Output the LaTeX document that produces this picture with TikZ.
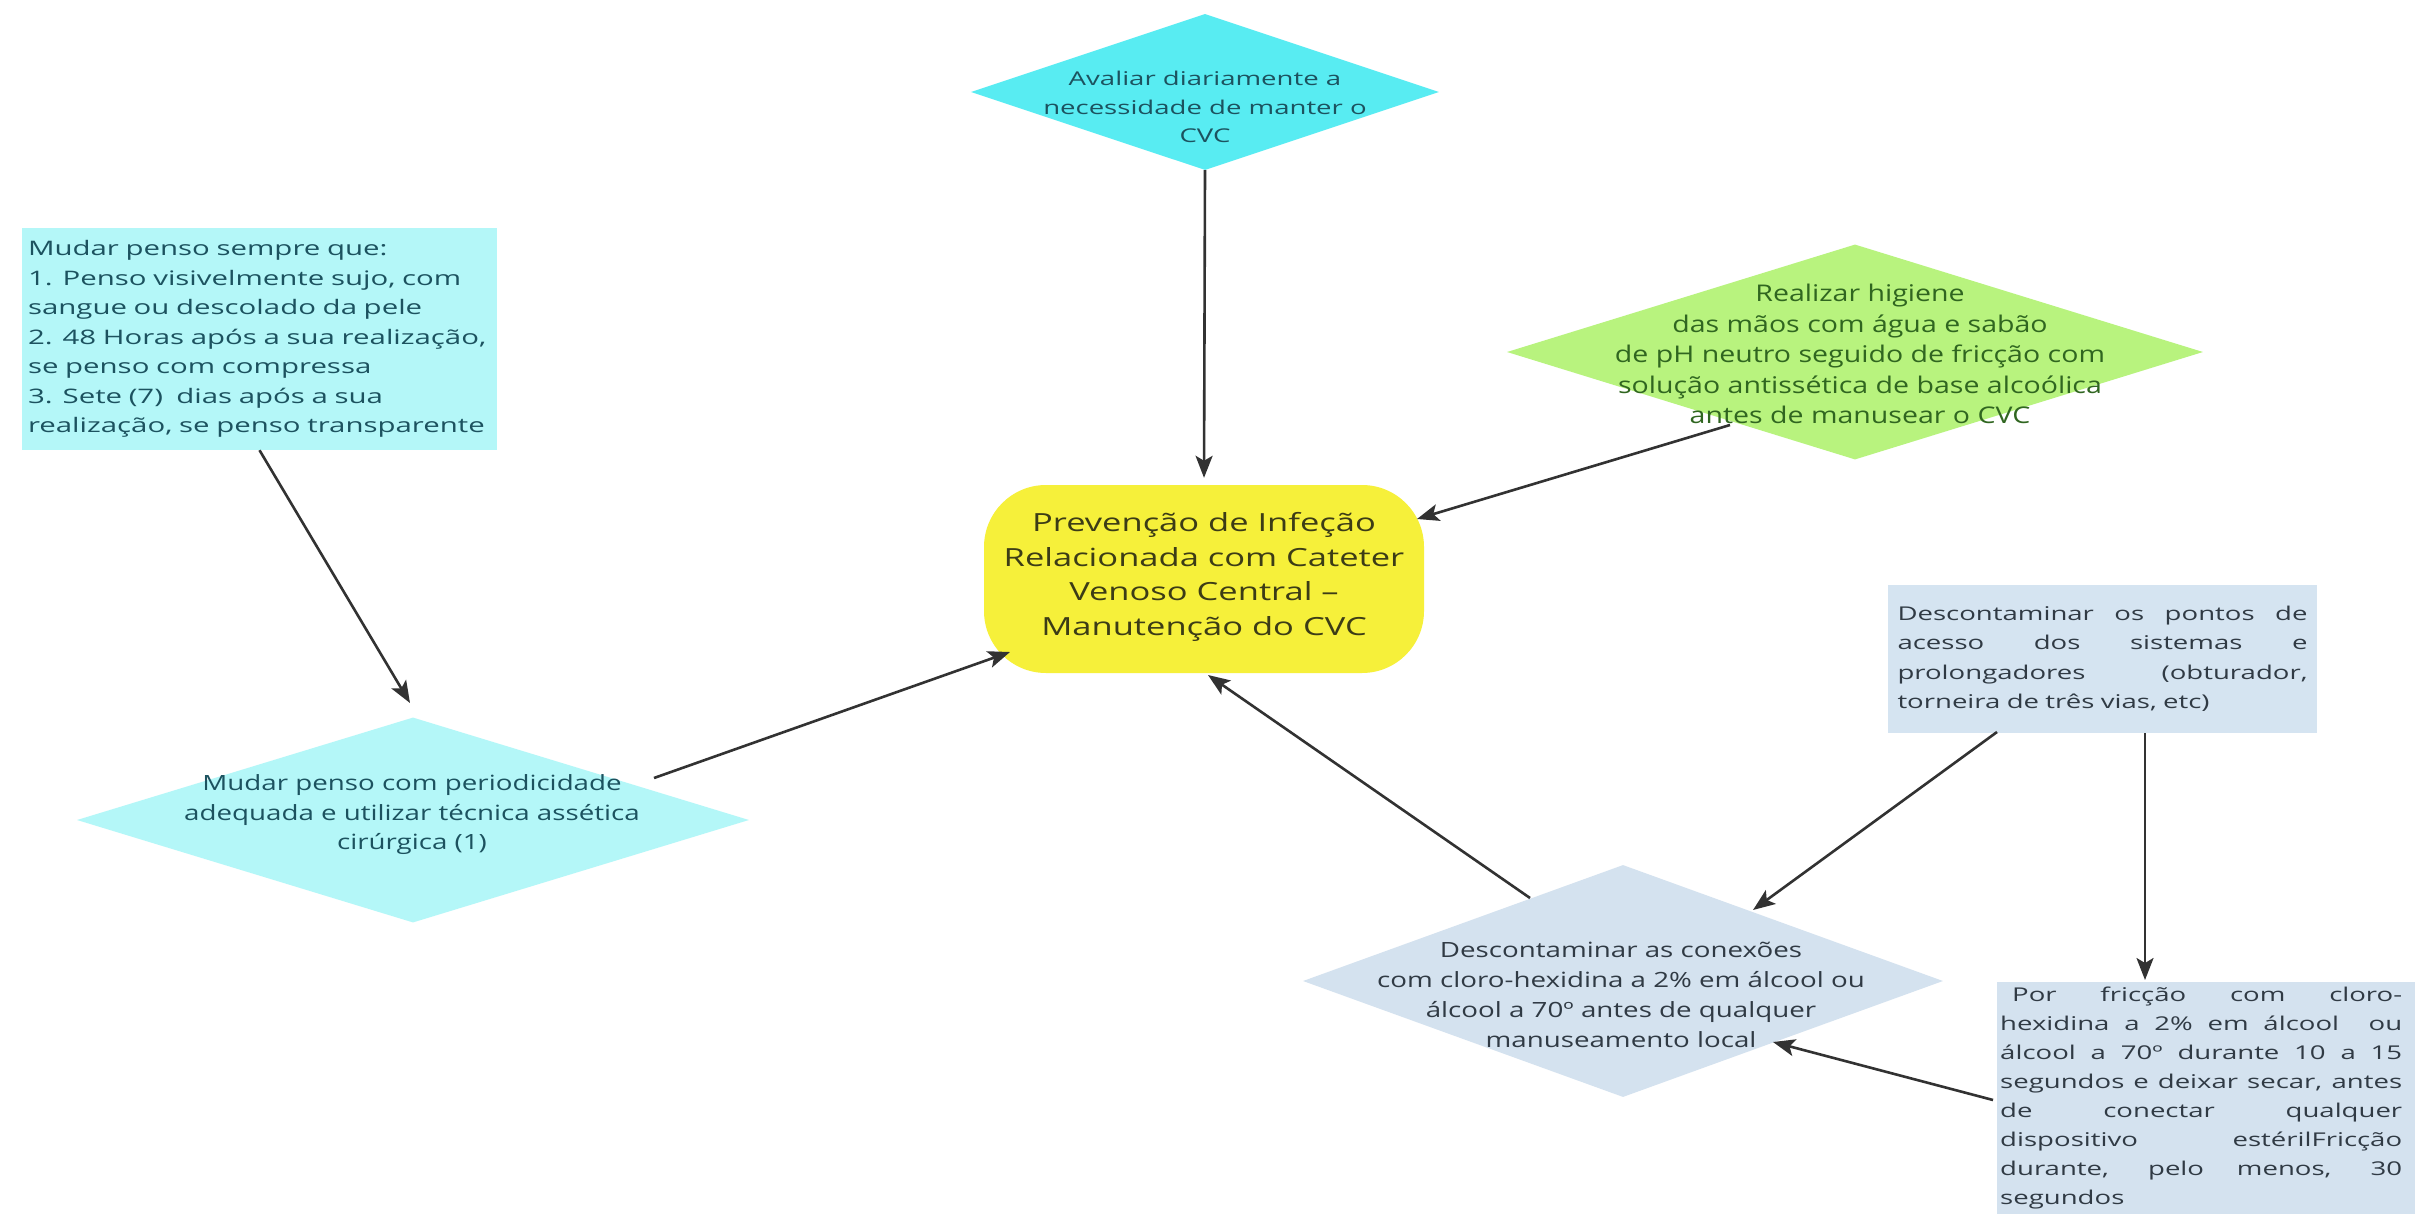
\documentclass[tikz,border=0pt]{standalone}
\usepackage{fontspec}
\setmainfont{Open Sans}
\newfontfamily\fwide[FakeStretch=1.45]{Open Sans}
\newfontfamily\fwider[FakeStretch=1.47]{Open Sans}
\newfontfamily\fmid[FakeStretch=1.38]{Open Sans}
\newfontfamily\fnar[FakeStretch=1.32]{Open Sans}
\newfontfamily\fgreen[FakeStretch=1.24]{Open Sans}
\usetikzlibrary{shapes.geometric,arrows.meta}
\definecolor{cyanA}{RGB}{88,236,242}
\definecolor{cyanL}{RGB}{180,247,248}
\definecolor{greenD}{RGB}{184,243,126}
\definecolor{yellowC}{RGB}{246,240,58}
\definecolor{blueL}{RGB}{213,228,241}
\definecolor{blueD}{RGB}{212,226,239}
\definecolor{tealT}{RGB}{28,82,95}
\definecolor{greenT}{RGB}{48,102,32}
\definecolor{oliveT}{RGB}{60,60,22}
\definecolor{slateT}{RGB}{48,58,68}
\definecolor{arrC}{RGB}{50,50,50}
\newcommand\jl[2][\hsize]{{\spaceskip=0pt\xspaceskip=0pt\makebox[#1][s]{#2}}}
\begin{document}
\begin{tikzpicture}[x=1pt,y=-1pt,
  every node/.append style={execute at begin node={\hyphenpenalty=10000\exhyphenpenalty=10000}},
  dia/.style={diamond, draw=none, inner sep=0pt},
  boxn/.style={rectangle, draw=none, inner ysep=4pt},
  txt/.style={inner sep=0pt, align=center},
  arr/.style={draw=arrC, line width=2.6pt, -{Stealth[length=22pt,width=17pt,inset=5pt]}}]
\path[use as bounding box, fill=white] (0,0) rectangle (2415,1214);

% top diamond
\node[dia, fill=cyanA, minimum width=468pt, minimum height=156pt] (d1) at (1205,92) {};
\node[txt, text=tealT, font=\fwide\fontsize{19}{28.5}\selectfont] (d1t) at (1205,107)
  {Avaliar diariamente a\\necessidade de manter o\\CVC};

% left box
\node[boxn, fill=cyanL, minimum width=475pt, minimum height=222pt, text width=463pt,
  inner xsep=6pt, align=left, text=tealT, font=\fwider\fontsize{20}{29.5}\selectfont] (lbox) at (259.5,339)
  {Mudar penso sempre que:\\
   1. Penso visivelmente sujo, com\\
   sangue ou descolado da pele\\
   2. 48 Horas após a sua realização,\\
   se penso com compressa\\
   3. Sete (7)~ dias após a sua\\
   realização, se penso transparente};

% green diamond
\node[dia, fill=greenD, minimum width=696pt, minimum height=215pt] (gd) at (1855,352) {};
\node[txt, text=greenT, font=\fgreen\fontsize{23}{30.5}\selectfont] (gdt) at (1860,354)
  {Realizar higiene\\ das mãos com água e sabão\\de pH neutro seguido de fricção com\\solução antissética de base alcoólica\\antes de manusear o CVC};

% central node
\node[rectangle, fill=yellowC, rounded corners=62pt, minimum width=440pt, minimum height=188pt, inner sep=0pt] (yel) at (1204,579) {};
\node[txt, text=oliveT, font=\fmid\fontsize{25}{34.5}\selectfont] (yelt) at (1204,577)
  {Prevenção de Infeção\\Relacionada com Cateter\\Venoso Central –\\Manutenção do CVC};

% left diamond
\node[dia, fill=cyanL, minimum width=672pt, minimum height=205pt] (ld) at (413,820) {};
\node[txt, text=tealT, font=\fnar\fontsize{21}{29.5}\selectfont] (ldt) at (412,815)
  {Mudar penso com periodicidade\\adequada e utilizar técnica assética\\cirúrgica (1)};

% right box
\node[boxn, fill=blueL, minimum width=429pt, minimum height=148pt, text width=410pt,
  inner xsep=9.5pt, align=left, text=slateT, font=\fwide\fontsize{19}{29.5}\selectfont] (rbox) at (2102.5,659)
  {\jl{Descontaminar os pontos de}\\
   \jl{acesso dos sistemas e}\\
   \jl{prolongadores (obturador,}\\
   torneira de três vias, etc)};

% bottom diamond
\node[dia, fill=blueD, minimum width=640pt, minimum height=232pt] (bd) at (1623,981) {};
\node[txt, text=slateT, font=\fnar\fontsize{21}{30}\selectfont] (bdt) at (1621,995)
  {Descontaminar as conexões\\com cloro-hexidina a 2\% em álcool ou\\álcool a 70º antes de qualquer\\manuseamento local};

% bottom right box
\node[boxn, anchor=north west, fill=blueD, text width=414pt, inner xsep=3pt, inner ysep=5pt,
  align=left, text=slateT, font=\fwide\fontsize{19}{29}\selectfont] (pf) at (1997,982)
  {\jl[402pt]{\hspace*{12pt}Por fricção com cloro-}\\
   \jl[402pt]{hexidina a 2\% em álcool~ ou}\\
   \jl[402pt]{álcool a 70º durante 10 a 15}\\
   \jl[402pt]{segundos e deixar secar, antes}\\
   \jl[402pt]{de conectar qualquer}\\
   \jl[402pt]{dispositivo estérilFricção}\\
   \jl[402pt]{durante, pelo menos, 30}\\
   segundos};

% connectors
\draw[arr] (d1.south) -- ([shift={(0,-7)}]yel.north);
\draw[arr] ([shift={(-125,73)}]gd.center) -- ([shift={(213,-60)}]yel.center);
\draw[arr] (lbox.south) -- ([shift={(-3,-117)}]ld.center);
\draw[arr] ([shift={(241,-42)}]ld.center) -- ([shift={(-194,73)}]yel.center);
\draw[arr] ([shift={(-93,-83)}]bd.center) -- ([shift={(4,96)}]yel.center);
\draw[arr] ([shift={(-105.5,73)}]rbox.center) -- ([shift={(130,-71)}]bd.center);
\draw[arr] ([shift={(42.5,74)}]rbox.center) -- ([shift={(148,-2)}]pf.north west);
\draw[arr] ([shift={(-4,118)}]pf.north west) -- ([shift={(150,61)}]bd.center);
\end{tikzpicture}
\end{document}
